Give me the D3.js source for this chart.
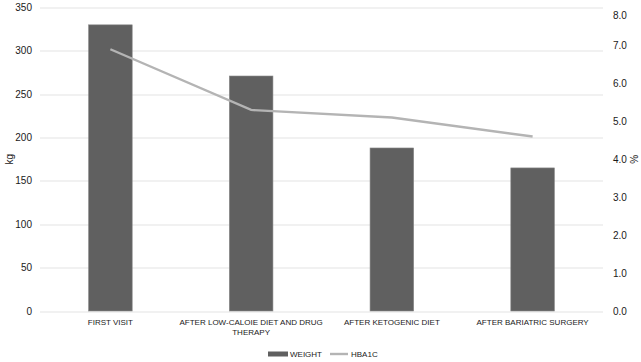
<!DOCTYPE html>
<html>
<head>
<meta charset="utf-8">
<script src="https://cdn.jsdelivr.net/npm/d3@7"></script>
<style>
  body { margin: 0; background: #fff; }
  text { font-family: "Liberation Sans", Arial, sans-serif; fill: #1a1a1a; }
</style>
</head>
<body>
<svg id="chart" width="641" height="362"></svg>
<script>
var categories = ["FIRST VISIT", "AFTER LOW-CALOIE DIET AND DRUG THERAPY", "AFTER KETOGENIC DIET", "AFTER BARIATRIC SURGERY"];
var weight = [330, 271, 188, 165];
var hba1c = [6.9, 5.3, 5.1, 4.6];
var leftTicks = [0, 50, 100, 150, 200, 250, 300, 350];
var rightTicks = [0, 1, 2, 3, 4, 5, 6, 7, 8];

var margin = { top: 7.5, right: 38, bottom: 51, left: 40 };
var width = 641 - margin.left - margin.right;
var height = 362 - margin.top - margin.bottom;

var svg = d3.select("#chart"),
  g = svg.append("g").attr("transform", "translate(" + margin.left + "," + margin.top + ")");

var x = d3.scaleBand().domain(categories).range([0, width]).padding(0);
var y = d3.scaleLinear().domain([0, 350]).range([height, 0]);
var y2 = d3.scaleLinear().domain([0, 8]).range([height, 0]);

// gridlines
g.selectAll(".grid")
  .data(leftTicks)
  .enter().append("line")
    .attr("x1", 0)
    .attr("x2", width)
    .attr("y1", function(d) { return Math.round(y(d)) + 0.5; })
    .attr("y2", function(d) { return Math.round(y(d)) + 0.5; })
    .style("stroke", "#e3e3e3")
    .style("stroke-width", 1);

// left axis labels
g.selectAll(".ltick")
  .data(leftTicks)
  .enter().append("text")
    .attr("x", -8)
    .attr("y", function(d) { return y(d); })
    .attr("dy", "0.35em")
    .style("text-anchor", "end")
    .style("font-size", "10px")
    .text(function(d) { return d; });

// right axis labels
g.selectAll(".rtick")
  .data(rightTicks)
  .enter().append("text")
    .attr("x", width + 10)
    .attr("y", function(d) { return Math.max(y2(d), 8); })
    .attr("dy", "0.35em")
    .style("text-anchor", "start")
    .style("font-size", "10px")
    .text(function(d) { return d3.format(".1f")(d); });

// axis titles
svg.append("text")
  .attr("transform", "translate(13," + (margin.top + height / 2) + ") rotate(-90)")
  .style("text-anchor", "middle")
  .style("font-size", "10px")
  .text("kg");

svg.append("text")
  .attr("transform", "translate(638," + (margin.top + height / 2) + ") rotate(-90)")
  .style("text-anchor", "middle")
  .style("font-size", "10px")
  .text("%");

// bars
var barW = x.bandwidth() * 0.31;
g.selectAll(".bar")
  .data(weight)
  .enter().append("rect")
    .attr("x", function(d, i) { return x(categories[i]) + x.bandwidth() / 2 - barW / 2; })
    .attr("y", function(d) { return y(d); })
    .attr("width", barW)
    .attr("height", function(d) { return height - y(d); })
    .style("fill", "#606060")
    .style("stroke", "#8a8a8a")
    .style("stroke-width", 0.6);

// line
var line = d3.line()
  .x(function(d, i) { return x(categories[i]) + x.bandwidth() / 2; })
  .y(function(d) { return y2(d); });

g.append("path")
  .datum(hba1c)
  .attr("d", line)
  .style("fill", "none")
  .style("stroke", "#b4b4b4")
  .style("stroke-width", 2.4);

// category labels with wrap
function wrapWords(text, maxW) {
  var words = text.split(" "), lines = [], cur = "";
  var ctx = document.createElement("canvas").getContext("2d");
  ctx.font = "8px 'Liberation Sans', Arial, sans-serif";
  words.forEach(function(w) {
    var t = cur ? cur + " " + w : w;
    if (ctx.measureText(t).width > maxW && cur) { lines.push(cur); cur = w; }
    else cur = t;
  });
  lines.push(cur);
  return lines;
}

var catLabels = g.selectAll(".cat")
  .data(categories)
  .enter().append("text")
    .attr("x", function(d) { return x(d) + x.bandwidth() / 2; })
    .attr("y", height + 14)
    .style("text-anchor", "middle")
    .style("font-size", "8px");

catLabels.each(function(d) {
  var el = d3.select(this);
  var cx = x(d) + x.bandwidth() / 2;
  wrapWords(d, x.bandwidth() + 6).forEach(function(l, i) {
    el.append("tspan").attr("x", cx).attr("dy", i ? 9.5 : 0).text(l);
  });
});

// legend
var legend = svg.append("g").attr("transform", "translate(268,354)");
legend.append("rect")
  .attr("x", 0).attr("y", -2.5).attr("width", 20).attr("height", 5)
  .style("fill", "#606060");
legend.append("text")
  .attr("x", 22).attr("y", 0).attr("dy", "0.35em")
  .style("font-size", "8px")
  .text("WEIGHT");
legend.append("line")
  .attr("x1", 62).attr("x2", 80).attr("y1", 0).attr("y2", 0)
  .style("stroke", "#b4b4b4").style("stroke-width", 2.4);
legend.append("text")
  .attr("x", 83).attr("y", 0).attr("dy", "0.35em")
  .style("font-size", "8px")
  .text("HBA1C");
</script>
</body>
</html>
